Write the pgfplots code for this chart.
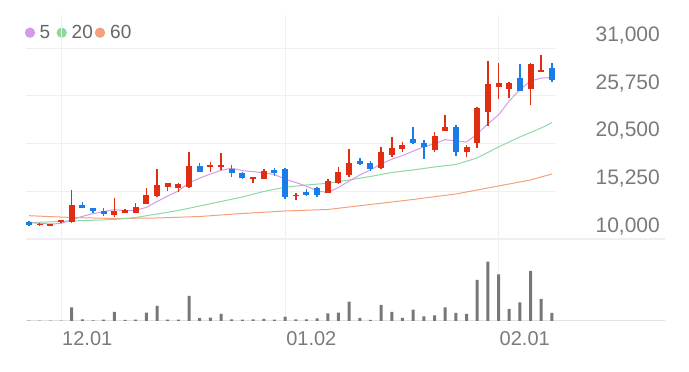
\documentclass[border=0pt]{standalone}
\usepackage{pgfplots}
\pgfplotsset{compat=1.18}
\usepackage{pgfplotstable}
\usepackage{fontspec}
\setmainfont{Liberation Sans}
\definecolor{upc}{HTML}{E12D12}
\definecolor{dnc}{HTML}{1A7CE8}
\definecolor{maA}{HTML}{D59BE6}
\definecolor{maB}{HTML}{8FD8A2}
\definecolor{maC}{HTML}{F3A07E}
\definecolor{gridc}{HTML}{EFEFEF}
\definecolor{basec}{HTML}{E2E2E2}
\definecolor{volc}{HTML}{777777}
\definecolor{txtc}{HTML}{7A7A7A}
\definecolor{legc}{HTML}{666666}

\pgfplotstableread{
i o h l c
1 11540 11760 11430 11650
2 11485 11650 11375 11573
3 11870 12090 11760 12035
4 11903 15390 11793 13740
8 12673 14543 12453 13113
9 12893 13333 12827 13223
10 12893 13927 12827 13553
11 13828 15588 13795 14785
12 14730 17667 14653 15940
13 15687 16193 15313 16127
14 15577 16127 15203 16017
15 15687 19537 15577 18030
17 17997 18503 17403 18140
18 17887 19427 17590 18140
21 16600 16853 16193 16853
22 16622 17667 16567 17425
25 14730 15093 14290 14840
28 15093 16567 15027 16413
29 16193 17953 16050 17403
30 17040 19867 16853 18327
33 17777 20153 17667 19603
34 19240 21187 19053 20043
35 19900 20703 19537 20340
38 19790 21803 19603 21330
39 21880 23640 21880 22287
41 19603 20340 19053 20087
42 20593 24553 19977 24377
43 23937 29613 22430 27017
44 26687 29327 25367 27193
45 26467 27303 25477 27193
47 26500 29393 24740 29217
48 28337 30240 28337 28590
}\upcandles

\pgfplotstableread{
i o h l c
0 11903 11980 11430 11540
5 13740 14103 13377 13443
6 13377 13377 12827 13080
7 13080 13410 12563 12750
16 18030 18327 17403 17403
19 17700 18140 16853 17227
20 17227 17403 16600 16677
23 17590 17777 16930 17293
24 17700 17843 14400 14653
26 15203 15533 14763 14840
27 15577 15753 14653 14840
31 18580 18877 18107 18217
32 18393 18580 17513 17700
36 20967 22353 20417 20593
37 20527 20890 18800 20087
40 22353 22540 19130 19537
46 27743 29250 26280 26280
49 28777 29327 27303 27490
}\downcandles

\pgfplotstableread{
i v
0 11800
1 11720
2 11650
3 11700
4 12108
5 12488
6 12774
7 13010
8 13225
9 13122
10 13144
11 13485
12 14123
13 14726
14 15284
15 16180
16 16703
17 17143
18 17546
19 17788
20 17517
21 17407
22 17264
23 17095
24 16580
25 16213
26 15810
27 15293
28 15117
29 15667
30 16365
31 17040
32 17612
33 18250
34 18778
35 19181
36 19656
37 20133
38 20479
39 20927
40 20767
41 20666
42 21524
43 22661
44 23642
45 25173
46 26412
47 27380
48 27695
49 27754
}\mafive

\pgfplotstableread{
i v
0 11793
4 11980
8 12145
10 12365
12 12750
14 13135
16 13630
18 14125
20 14620
22 15225
24 15687
26 15940
28 16127
30 16490
32 16875
34 17315
36 17590
38 17920
40 18195
42 18910
44 20120
46 21220
48 22210
49 22793
}\matwenty

\pgfplotstableread{
i v
0 12563
4 12365
8 12255
12 12310
16 12475
20 12805
24 13080
28 13245
32 13795
36 14345
40 14950
44 15830
47 16490
49 17150
}\masixty

\pgfplotstableread{
i v
0 0.3
1 0.3
2 0.3
3 0.3
4 13.7
5 1.7
6 0.7
7 1.3
8 9
9 1
10 1.3
11 8.3
12 15
13 1.3
14 1.3
15 25
16 3
17 3.3
18 7
19 1.7
20 1.3
21 1.7
22 2
23 1.3
24 4.3
25 1.5
26 1.7
27 2.7
28 7.7
29 8.3
30 19.3
31 3
32 1
33 16
34 9
35 3
36 11.3
37 4.7
38 5.7
39 13.7
40 8
41 7
42 41
43 59.3
44 46.7
45 12
46 18.7
47 50
48 22
49 8
}\volume

\pgfplotsset{
  candle/.style={only marks, mark=*, mark size=0.01pt, mark options={draw opacity=0, fill opacity=0},
    error bars/.cd, y dir=both, y explicit, error mark=none,
    error bar style={line width=#1}},
}

\begin{document}
\begin{tikzpicture}
\path[use as bounding box] (0,0) rectangle (689pt,372pt);

% legend
\fill[maA] (30pt,339.3pt) circle (5.2pt);
\node[anchor=base west, inner sep=0pt, text=legc, font=\fontsize{19}{19}\selectfont] at (39.5pt,333pt) {5};
\fill[maB] (61.7pt,339.3pt) circle (5.2pt);
\node[anchor=base west, inner sep=0pt, text=legc, font=\fontsize{19}{19}\selectfont] at (71.5pt,333pt) {20};
\fill[maC] (100pt,339.3pt) circle (5.2pt);
\node[anchor=base west, inner sep=0pt, text=legc, font=\fontsize{19}{19}\selectfont] at (110pt,333pt) {60};

% price panel
\begin{axis}[
  at={(26pt,133pt)}, anchor=south west,
  scale only axis, width=639pt, height=224pt,
  xmin=-0.28, xmax=59.6, ymin=10000, ymax=34629,
  axis line style={draw=none}, tick style={draw=none},
  major tick length=0pt,
  scaled y ticks=false,
  xtick={3,24,44}, xticklabels=\empty,
  xmajorgrids, grid style={gridc, line width=1pt},
  ytick={10000,15250,20500,25750,31000},
  yticklabels={{10,000},{15,250},{20,500},{25,750},{31,000}},
  yticklabel pos=right,
  yticklabel style={anchor=base east, inner sep=0pt, xshift=-5pt, yshift=6.5pt,
    font=\fontsize{21}{21}\selectfont, text=txtc},
  clip=false,
]
\draw[gridc, line width=1pt] (axis cs:-0.28,15250) -- (axis cs:49.3,15250);
\draw[gridc, line width=1pt] (axis cs:-0.28,20500) -- (axis cs:49.3,20500);
\draw[gridc, line width=1pt] (axis cs:-0.28,25750) -- (axis cs:49.3,25750);
\draw[gridc, line width=1pt] (axis cs:-0.28,31000) -- (axis cs:49.3,31000);
\draw[gridc, line width=1.2pt] (axis cs:-0.28,10000) -- (axis cs:59.6,10000);

\addplot[maC, line width=1pt, mark=none] table[x=i, y=v] {\masixty};
\addplot[maB, line width=1pt, mark=none] table[x=i, y=v] {\matwenty};
\addplot[maA, line width=1pt, mark=none] table[x=i, y=v] {\mafive};

% wicks
\addplot[upc, candle=1.5pt]
  table[x=i, y expr={(\thisrow{h}+\thisrow{l})/2}, y error expr={(\thisrow{h}-\thisrow{l})/2}] {\upcandles};
\addplot[dnc, candle=1.5pt]
  table[x=i, y expr={(\thisrow{h}+\thisrow{l})/2}, y error expr={(\thisrow{h}-\thisrow{l})/2}] {\downcandles};
% bodies
\addplot[upc, candle=6pt]
  table[x=i, y expr={(\thisrow{o}+\thisrow{c})/2}, y error expr={max(abs(\thisrow{c}-\thisrow{o})/2,70)}] {\upcandles};
\addplot[dnc, candle=6pt]
  table[x=i, y expr={(\thisrow{o}+\thisrow{c})/2}, y error expr={max(abs(\thisrow{c}-\thisrow{o})/2,70)}] {\downcandles};
\end{axis}

% volume panel
\begin{axis}[
  at={(26pt,51pt)}, anchor=south west,
  scale only axis, width=639pt, height=82pt,
  xmin=-0.28, xmax=59.6, ymin=0, ymax=82,
  axis line style={draw=none}, tick style={draw=none},
  major tick length=0pt,
  ytick=\empty,
  xtick={3,24,44}, xticklabels={12.01,01.02,02.01},
  xmajorgrids, grid style={gridc, line width=1pt},
  xticklabel style={anchor=north west, inner sep=0pt, xshift=1pt, yshift=-10pt,
    font=\fontsize{20}{20}\selectfont, text=txtc},
]
\draw[basec, line width=1.5pt] (axis cs:-0.28,0) -- (axis cs:59.6,0);
\addplot[ybar, bar width=3pt, bar shift=0pt, fill=volc, draw=none] table[x=i, y=v] {\volume};
\end{axis}
\end{tikzpicture}
\end{document}
